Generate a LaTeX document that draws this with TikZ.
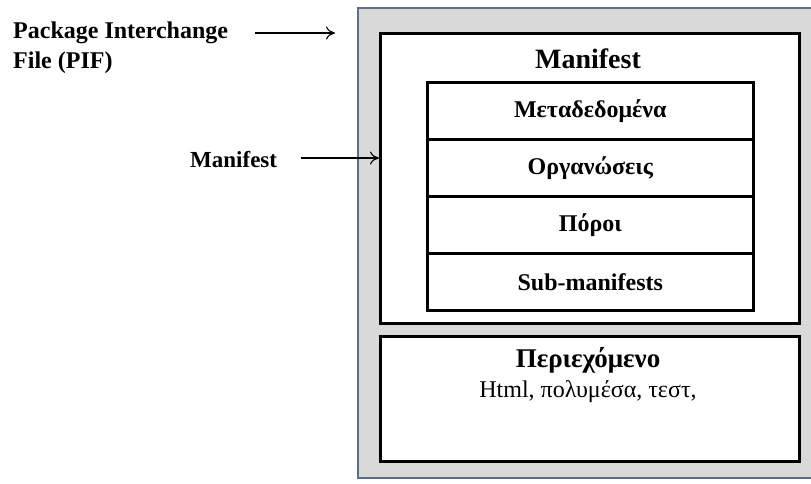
\documentclass[tikz,border=0pt]{standalone}
\usepackage{fontspec}
\setmainfont{Liberation Serif}
\usetikzlibrary{arrows.meta}
\definecolor{frameblue}{HTML}{5B6E8A}
\definecolor{panelgray}{HTML}{D9D9D9}
\tikzset{
  px/.style={x=1pt,y=-1pt},
  outerbox/.style={draw=frameblue,line width=2pt,fill=panelgray},
  partbox/.style={draw=black,line width=3pt,fill=white},
  rowbox/.style={draw=black,line width=2.6pt,fill=white,minimum width=326pt,minimum height=57pt,inner sep=0pt,anchor=north west,font=\bfseries\fontsize{24}{28}\selectfont},
  sidelabel/.style={font=\bfseries\fontsize{24}{30}\selectfont,inner sep=0pt,align=left},
  pointer/.style={-{To[length=9pt,width=13pt]},line width=1.1pt}
}
\begin{document}
\begin{tikzpicture}[px]
\useasboundingbox (0,0) rectangle (811,484);
\clip (0,0) rectangle (811,484);
% package frame
\draw[outerbox] (358,8) rectangle (830,478);
% manifest part and content part
\node[partbox,minimum width=419pt,minimum height=290pt,anchor=north west,inner sep=0pt] (man) at (379,32) {};
\node[partbox,minimum width=419pt,minimum height=125pt,anchor=north west,inner sep=0pt] (cont) at (379,335) {};
\node[font=\bfseries\fontsize{28}{32}\selectfont] (mantitle) at (588,59) {Manifest};
% manifest sections
\node[rowbox] (r1) at (426,81) {Μεταδεδομένα};
\node[rowbox] (r2) at (426,138) {Οργανώσεις};
\node[rowbox] (r3) at (426,195) {Πόροι};
\node[rowbox] (r4) at (426,252) {Sub-manifests};
% content description
\node[font=\bfseries\fontsize{27}{30}\selectfont] (conttitle) at (588,360) {Περιεχόμενο};
\node[font=\fontsize{24}{28}\selectfont] (conttext) at (588,392) {Html, πολυμέσα, τεστ,};
% side labels and pointers
\node[sidelabel,anchor=west] (pif) at (13,48) {Package Interchange\\File (PIF)};
\node[sidelabel,anchor=west,font=\bfseries\fontsize{23}{28}\selectfont] (manlabel) at (190,160) {Manifest};
\coordinate (pifend) at (335,33);
\coordinate (pifstart) at (255,33);
\draw[pointer] (pifstart) -- (pifend);
\draw[pointer] (manlabel.east) ++(24pt,2pt) coordinate (manstart) -- (man.west |- manstart);
\end{tikzpicture}
\end{document}
